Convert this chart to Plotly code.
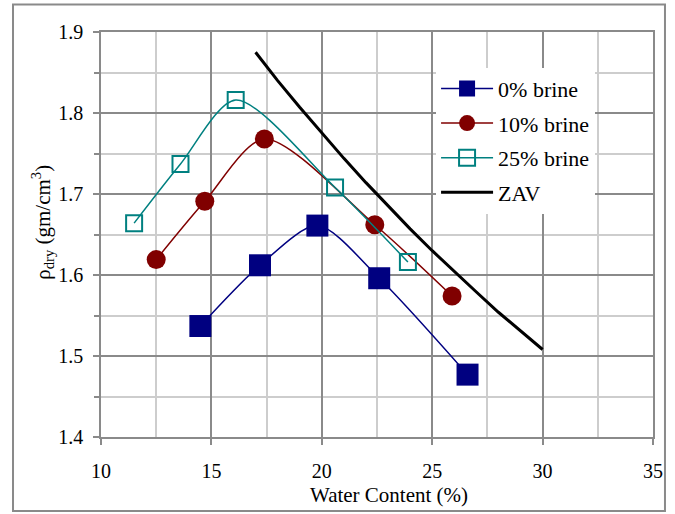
import plotly.graph_objects as go

# Data
w_0 = [14.5, 17.2, 19.8, 22.6, 26.6]
rho_0 = [1.537, 1.612, 1.661, 1.596, 1.477]

w_10 = [12.5, 14.7, 17.4, 22.4, 25.9]
rho_10 = [1.619, 1.691, 1.768, 1.662, 1.574]

w_25 = [11.5, 13.6, 16.1, 20.6, 23.9]
rho_25 = [1.664, 1.737, 1.816, 1.708, 1.616]

w_zav = [17, 18, 19, 20, 21, 22, 23, 24, 25, 26, 27, 28, 29, 30]
rho_zav = [1.875, 1.840, 1.807, 1.775, 1.744, 1.714, 1.685, 1.657, 1.630,
           1.604, 1.579, 1.554, 1.531, 1.508]

names = ["0% brine", "10% brine", "25% brine", "ZAV"]

FONT = "Liberation Serif"
MAJ = "#8a8a8a"
MIN = "#cdcdcd"

fig = go.Figure()
fig.add_trace(go.Scatter(
    x=w_0, y=rho_0, name=names[0], mode="lines+markers",
    line=dict(color="#000080", width=1.5, shape="spline", smoothing=0.8),
    marker=dict(symbol="square", size=22, color="#000080"),
    legendgroup="a"))
fig.add_trace(go.Scatter(
    x=w_10, y=rho_10, name=names[1], mode="lines+markers",
    line=dict(color="#800000", width=1.5, shape="spline", smoothing=0.8),
    marker=dict(symbol="circle", size=19, color="#800000"),
    legendgroup="b"))
fig.add_trace(go.Scatter(
    x=w_25, y=rho_25, name=names[2], mode="lines+markers",
    line=dict(color="#008080", width=1.5, shape="spline", smoothing=0.8),
    marker=dict(symbol="square-open", size=16, color="#008080",
                line=dict(width=2, color="#008080")),
    legendgroup="c"))
fig.add_trace(go.Scatter(
    x=w_zav, y=rho_zav, name=names[3], mode="lines",
    line=dict(color="black", width=3),
    legendgroup="d"))

fig.update_layout(
    width=675, height=514,
    margin=dict(l=101, r=22, t=32, b=77),
    paper_bgcolor="white", plot_bgcolor="white",
    font=dict(family=FONT, size=20, color="black"),
    showlegend=True,
    legend=dict(
        x=0.607, y=0.912, xanchor="left", yanchor="top",
        bgcolor="white", borderwidth=0,
        font=dict(family=FONT, size=22, color="black"),
        itemwidth=52, tracegroupgap=3,
    ),
    xaxis=dict(
        range=[10, 35], dtick=5, tick0=10,
        showgrid=True, gridcolor=MAJ, gridwidth=1.5,
        minor=dict(dtick=2.5, showgrid=True, gridcolor=MIN, gridwidth=1.5),
        ticks="outside", ticklen=6, tickcolor=MAJ, tickwidth=1.5,
        ticklabelstandoff=9,
        showline=True, linecolor=MAJ, linewidth=1.5, mirror=True,
        zeroline=False,
        tickfont=dict(family=FONT, size=20, color="black"),
    ),
    yaxis=dict(
        range=[1.4, 1.9], dtick=0.1, tick0=1.4, tickformat=".1f",
        showgrid=True, gridcolor=MAJ, gridwidth=1.5,
        minor=dict(dtick=0.05, showgrid=True, gridcolor=MIN, gridwidth=1.5,
                   ticks="outside", ticklen=5, tickcolor=MAJ, tickwidth=1.5),
        ticks="outside", ticklen=6, tickcolor=MAJ, tickwidth=1.5,
        ticklabelstandoff=6,
        showline=True, linecolor=MAJ, linewidth=1.5, mirror=True,
        zeroline=False,
        tickfont=dict(family=FONT, size=20, color="black"),
    ),
    annotations=[
        dict(text="Water Content (%)", xref="paper", yref="paper",
             x=0.522, y=-0.142, xanchor="center", yanchor="middle",
             showarrow=False, font=dict(family=FONT, size=21, color="black")),
        dict(text="ρ<sub>dry</sub> (gm/cm<sup>3</sup>)", xref="paper", yref="paper",
             x=-0.106, y=0.53, xanchor="center", yanchor="middle",
             textangle=-90, showarrow=False,
             font=dict(family=FONT, size=21, color="black")),
    ],
    shapes=[
        dict(type="rect", xref="paper", yref="paper",
             x0=-0.1594, x1=1.0217, y0=-0.183, y1=1.068,
             line=dict(color=MAJ, width=2), fillcolor="rgba(0,0,0,0)",
             layer="below"),
    ],
)

fig.write_html("out.html", config={"displayModeBar": False},
               post_script="document.body.style.margin='0';document.body.style.overflow='hidden';")
